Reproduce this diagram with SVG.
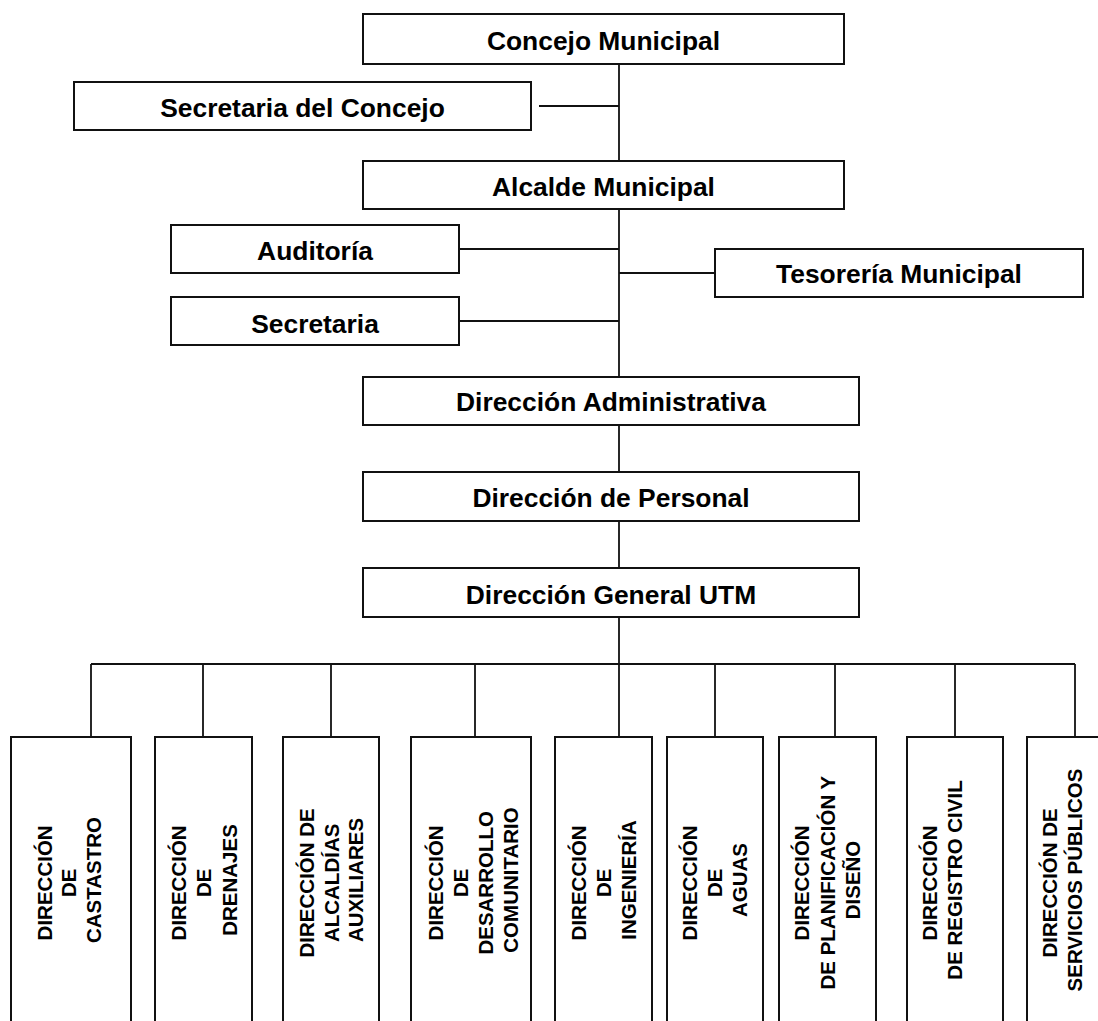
<svg xmlns="http://www.w3.org/2000/svg" width="1098" height="1021" viewBox="0 0 1098 1021">
  <style>
    .box { fill: #ffffff; stroke: #111111; stroke-width: 2; }
    .lbl { font-family: "Liberation Sans", Arial, sans-serif; font-weight: bold; font-size: 26.4px; fill: #000000; text-anchor: middle; }
    .vlbl { font-family: "Liberation Sans", Arial, sans-serif; font-weight: bold; font-size: 20.5px; fill: #000000; text-anchor: middle; }
    .link { fill: none; stroke: #111111; stroke-width: 1.8; }
  </style>
  <rect x="0" y="0" width="1098" height="1021" fill="#ffffff"/>

  <!-- connectors -->
  <g id="connectors" class="link">
    <!-- main trunk -->
    <path d="M619 64 V161"/>
    <path d="M619 209 V377"/>
    <path d="M619 425 V472"/>
    <path d="M619 521 V568"/>
    <path d="M619 617 V664"/>
    <!-- side branches -->
    <path d="M539 106 H619"/>
    <path d="M459 249 H619"/>
    <path d="M619 273 H715"/>
    <path d="M459 321 H619"/>
    <!-- bus to the directorates -->
    <path d="M91 664 H1075"/>
    <path d="M91 664 V737"/>
    <path d="M203 664 V737"/>
    <path d="M331 664 V737"/>
    <path d="M475 664 V737"/>
    <path d="M619 664 V737"/>
    <path d="M715 664 V737"/>
    <path d="M835 664 V737"/>
    <path d="M955 664 V737"/>
    <path d="M1075 664 V737"/>
  </g>

  <!-- upper hierarchy -->
  <g id="concejo-municipal">
    <rect class="box" x="363" y="14" width="481" height="50"/>
    <text class="lbl" x="603.5" y="50">Concejo Municipal</text>
  </g>
  <g id="secretaria-concejo">
    <rect class="box" x="74" y="82" width="457" height="48"/>
    <text class="lbl" x="302.5" y="117">Secretaria del Concejo</text>
  </g>
  <g id="alcalde-municipal">
    <rect class="box" x="363" y="161" width="481" height="48"/>
    <text class="lbl" x="603.5" y="196">Alcalde Municipal</text>
  </g>
  <g id="auditoria">
    <rect class="box" x="171" y="225" width="288" height="48"/>
    <text class="lbl" x="315" y="260">Auditoría</text>
  </g>
  <g id="tesoreria-municipal">
    <rect class="box" x="715" y="249" width="368" height="48"/>
    <text class="lbl" x="899" y="283">Tesorería Municipal</text>
  </g>
  <g id="secretaria">
    <rect class="box" x="171" y="297" width="288" height="48"/>
    <text class="lbl" x="315" y="333">Secretaria</text>
  </g>
  <g id="direccion-administrativa">
    <rect class="box" x="363" y="377" width="496" height="48"/>
    <text class="lbl" x="611" y="411">Dirección Administrativa</text>
  </g>
  <g id="direccion-personal">
    <rect class="box" x="363" y="472" width="496" height="49"/>
    <text class="lbl" x="611" y="507">Dirección de Personal</text>
  </g>
  <g id="direccion-general-utm">
    <rect class="box" x="363" y="568" width="496" height="49"/>
    <text class="lbl" x="611" y="604">Dirección General UTM</text>
  </g>

  <!-- directorates (vertical labels, reading bottom to top) -->
  <g id="dir-castastro">
    <rect class="box" x="11" y="737" width="120" height="300"/>
    <text class="vlbl" transform="translate(0 880) rotate(-90)">
      <tspan x="0" y="51.6">DIRECCIÓN</tspan>
      <tspan x="0" y="76.3">DE</tspan>
      <tspan x="0" y="101">CASTASTRO</tspan>
    </text>
  </g>
  <g id="dir-drenajes">
    <rect class="box" x="155" y="737" width="97" height="300"/>
    <text class="vlbl" transform="translate(0 880) rotate(-90)">
      <tspan x="0" y="185.6">DIRECCIÓN</tspan>
      <tspan x="0" y="211.3">DE</tspan>
      <tspan x="0" y="236.8">DRENAJES</tspan>
    </text>
  </g>
  <g id="dir-alcaldias">
    <rect class="box" x="283" y="737" width="96" height="300"/>
    <text class="vlbl" transform="translate(0 880) rotate(-90)">
      <tspan x="0" y="314">DIRECCIÓN DE</tspan>
      <tspan x="0" y="338.5">ALCALDÍAS</tspan>
      <tspan x="0" y="363">AUXILIARES</tspan>
    </text>
  </g>
  <g id="dir-desarrollo">
    <rect class="box" x="411" y="737" width="120" height="300"/>
    <text class="vlbl" transform="translate(0 880) rotate(-90)">
      <tspan x="0" y="443">DIRECCIÓN</tspan>
      <tspan x="0" y="468">DE</tspan>
      <tspan x="0" y="493">DESARROLLO</tspan>
      <tspan x="0" y="518">COMUNITARIO</tspan>
    </text>
  </g>
  <g id="dir-ingenieria">
    <rect class="box" x="555" y="737" width="97" height="300"/>
    <text class="vlbl" transform="translate(0 880) rotate(-90)">
      <tspan x="0" y="585.6">DIRECCIÓN</tspan>
      <tspan x="0" y="610.6">DE</tspan>
      <tspan x="0" y="635.6">INGENIERÍA</tspan>
    </text>
  </g>
  <g id="dir-aguas">
    <rect class="box" x="667" y="737" width="96" height="300"/>
    <text class="vlbl" transform="translate(0 880) rotate(-90)">
      <tspan x="0" y="697.3">DIRECCIÓN</tspan>
      <tspan x="0" y="722.3">DE</tspan>
      <tspan x="0" y="747.3">AGUAS</tspan>
    </text>
  </g>
  <g id="dir-planificacion">
    <rect class="box" x="779" y="737" width="97" height="300"/>
    <text class="vlbl" transform="translate(0 880) rotate(-90)">
      <tspan x="0" y="809">DIRECCIÓN</tspan>
      <tspan x="0" y="834.5">DE PLANIFICACIÓN Y</tspan>
      <tspan x="0" y="860">DISEÑO</tspan>
    </text>
  </g>
  <g id="dir-registro-civil">
    <rect class="box" x="907" y="737" width="96" height="300"/>
    <text class="vlbl" transform="translate(0 880) rotate(-90)">
      <tspan x="0" y="937.3">DIRECCIÓN</tspan>
      <tspan x="0" y="962.3">DE REGISTRO CIVIL</tspan>
    </text>
  </g>
  <g id="dir-servicios-publicos">
    <rect class="box" x="1027" y="737" width="97" height="300"/>
    <text class="vlbl" transform="translate(0 880) rotate(-90)">
      <tspan x="0" y="1057.3">DIRECCIÓN DE</tspan>
      <tspan x="0" y="1082.3">SERVICIOS PÚBLICOS</tspan>
    </text>
  </g>
</svg>
